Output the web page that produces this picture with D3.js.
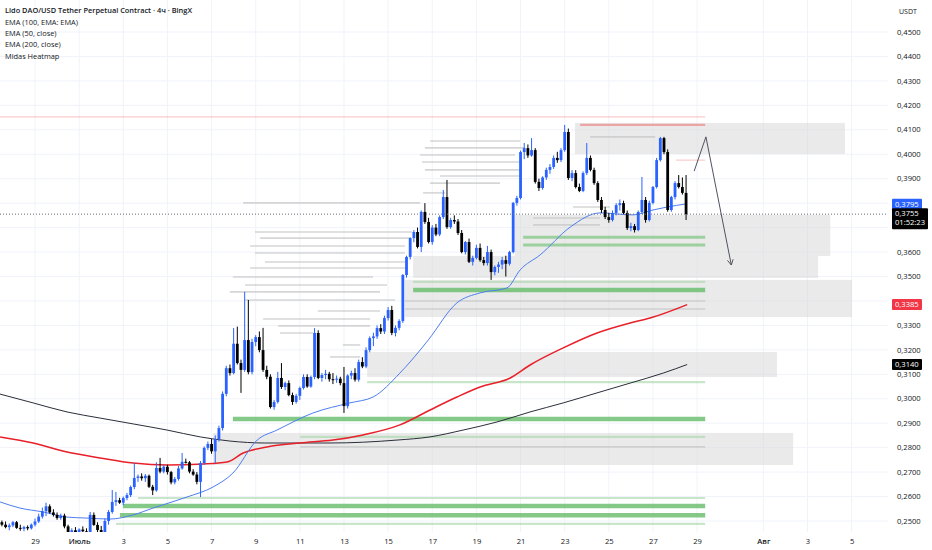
<!DOCTYPE html>
<html>
<head>
<meta charset="utf-8">
<script src="https://cdn.jsdelivr.net/npm/d3@7"></script>
<style>
  body { margin: 0; background: #fff; }
  svg { display: block; font-family: "Open Sans", "Noto Sans", sans-serif; }
</style>
</head>
<body>
<svg id="chart" width="932" height="550"></svg>
<script>
// 4h candles, first one opens 27.06 08:00 UTC. rows: [open, high, low, close]
var candles = [
  [0.2470,0.2500,0.2460,0.2495],[0.2495,0.2502,0.2478,0.2485],[0.2485,0.2498,0.2470,0.2475],[0.2475,0.2490,0.2462,0.2482],
  [0.2482,0.2500,0.2475,0.2495],[0.2495,0.2500,0.2468,0.2472],[0.2472,0.2485,0.2460,0.2468],[0.2468,0.2480,0.2458,0.2475],
  [0.2475,0.2482,0.2462,0.2470],[0.2470,0.2490,0.2465,0.2485],[0.2485,0.2510,0.2478,0.2498],[0.2498,0.2530,0.2492,0.2518],
  [0.2518,0.2555,0.2510,0.2540],[0.2540,0.2575,0.2520,0.2560],[0.2560,0.2568,0.2530,0.2535],[0.2535,0.2548,0.2518,0.2525],
  [0.2525,0.2535,0.2505,0.2512],[0.2512,0.2530,0.2505,0.2522],[0.2522,0.2530,0.2470,0.2478],[0.2478,0.2485,0.2440,0.2450],
  [0.2450,0.2470,0.2440,0.2462],[0.2462,0.2475,0.2445,0.2452],[0.2452,0.2470,0.2440,0.2465],[0.2465,0.2478,0.2450,0.2458],
  [0.2458,0.2470,0.2445,0.2450],[0.2450,0.2537,0.2440,0.2525],[0.2525,0.2535,0.2480,0.2484],[0.2484,0.2495,0.2455,0.2463],
  [0.2463,0.2480,0.2445,0.2455],[0.2455,0.2510,0.2450,0.2500],[0.2500,0.2545,0.2485,0.2537],[0.2537,0.2627,0.2530,0.2578],
  [0.2578,0.2619,0.2562,0.2585],[0.2585,0.2595,0.2570,0.2575],[0.2575,0.2600,0.2565,0.2594],[0.2594,0.2615,0.2585,0.2606],
  [0.2606,0.2645,0.2598,0.2639],[0.2639,0.2737,0.2630,0.2676],[0.2676,0.2690,0.2660,0.2682],[0.2682,0.2695,0.2665,0.2675],
  [0.2675,0.2692,0.2660,0.2685],[0.2685,0.2690,0.2635,0.2640],[0.2640,0.2648,0.2606,0.2625],[0.2625,0.2740,0.2620,0.2717],
  [0.2717,0.2758,0.2695,0.2702],[0.2702,0.2730,0.2695,0.2722],[0.2722,0.2730,0.2690,0.2700],[0.2700,0.2705,0.2650,0.2658],
  [0.2658,0.2680,0.2650,0.2672],[0.2672,0.2725,0.2665,0.2715],[0.2715,0.2778,0.2710,0.2742],[0.2742,0.2755,0.2735,0.2740],
  [0.2740,0.2745,0.2695,0.2702],[0.2702,0.2712,0.2685,0.2690],[0.2690,0.2700,0.2650,0.2660],[0.2660,0.2745,0.2598,0.2737],
  [0.2737,0.2805,0.2730,0.2799],[0.2799,0.2825,0.2790,0.2815],[0.2815,0.2835,0.2775,0.2785],[0.2785,0.2850,0.2737,0.2835],
  [0.2835,0.2890,0.2825,0.2880],[0.2880,0.3030,0.2870,0.3020],[0.3020,0.3135,0.3010,0.3125],[0.3125,0.3140,0.3095,0.3105],
  [0.3105,0.3289,0.3100,0.3225],[0.3225,0.3295,0.3140,0.3146],[0.3146,0.3160,0.3024,0.3118],[0.3118,0.3437,0.3110,0.3240],
  [0.3240,0.3404,0.3100,0.3109],[0.3109,0.3245,0.3100,0.3232],[0.3232,0.3260,0.3215,0.3252],[0.3252,0.3275,0.3190,0.3199],
  [0.3199,0.3290,0.3110,0.3118],[0.3118,0.3135,0.3080,0.3090],[0.3090,0.3100,0.2960,0.2966],[0.2966,0.2995,0.2955,0.2987],
  [0.2987,0.3110,0.2980,0.3085],[0.3085,0.3146,0.3040,0.3048],[0.3048,0.3070,0.3035,0.3064],[0.3064,0.3075,0.3010,0.3015],
  [0.3015,0.3025,0.2975,0.2987],[0.2987,0.3020,0.2980,0.3012],[0.3012,0.3050,0.2995,0.3044],[0.3044,0.3100,0.3038,0.3089],
  [0.3089,0.3100,0.3045,0.3050],[0.3050,0.3095,0.3045,0.3089],[0.3089,0.3289,0.3080,0.3269],[0.3269,0.3280,0.3080,0.3085],
  [0.3085,0.3105,0.3070,0.3097],[0.3097,0.3118,0.3080,0.3102],[0.3102,0.3110,0.3070,0.3080],[0.3080,0.3105,0.3060,0.3078],
  [0.3078,0.3095,0.3065,0.3082],[0.3082,0.3090,0.3055,0.3064],[0.3064,0.3130,0.2942,0.2970],[0.2970,0.3100,0.2960,0.3095],
  [0.3095,0.3115,0.3080,0.3105],[0.3105,0.3125,0.3070,0.3078],[0.3078,0.3160,0.3070,0.3150],[0.3150,0.3170,0.3125,0.3132],
  [0.3132,0.3210,0.3125,0.3199],[0.3199,0.3255,0.3190,0.3248],[0.3248,0.3270,0.3215,0.3255],[0.3255,0.3300,0.3245,0.3289],
  [0.3289,0.3305,0.3265,0.3275],[0.3275,0.3340,0.3265,0.3330],[0.3330,0.3375,0.3320,0.3363],[0.3363,0.3380,0.3260,0.3269],
  [0.3269,0.3300,0.3255,0.3290],[0.3290,0.3325,0.3280,0.3318],[0.3318,0.3510,0.3310,0.3506],[0.3506,0.3585,0.3495,0.3580],
  [0.3580,0.3660,0.3570,0.3657],[0.3657,0.3690,0.3640,0.3682],[0.3682,0.3700,0.3615,0.3621],[0.3621,0.3770,0.3600,0.3764],
  [0.3764,0.3800,0.3715,0.3723],[0.3723,0.3740,0.3635,0.3641],[0.3641,0.3710,0.3630,0.3700],[0.3700,0.3715,0.3665,0.3672],
  [0.3672,0.3750,0.3665,0.3743],[0.3743,0.3854,0.3735,0.3825],[0.3825,0.3895,0.3695,0.3702],[0.3702,0.3740,0.3695,0.3731],
  [0.3731,0.3750,0.3715,0.3725],[0.3725,0.3735,0.3670,0.3678],[0.3678,0.3690,0.3595,0.3600],[0.3600,0.3645,0.3590,0.3641],
  [0.3641,0.3655,0.3555,0.3560],[0.3560,0.3585,0.3545,0.3576],[0.3576,0.3630,0.3570,0.3617],[0.3617,0.3635,0.3560,0.3567],
  [0.3567,0.3580,0.3545,0.3555],[0.3555,0.3625,0.3545,0.3600],[0.3600,0.3610,0.3486,0.3518],[0.3518,0.3545,0.3505,0.3539],
  [0.3539,0.3560,0.3515,0.3549],[0.3549,0.3580,0.3530,0.3567],[0.3567,0.3585,0.3500,0.3552],[0.3552,0.3605,0.3545,0.3600],
  [0.3600,0.3805,0.3595,0.3801],[0.3801,0.3830,0.3790,0.3821],[0.3821,0.4015,0.3815,0.4009],[0.4009,0.4046,0.3980,0.4025],
  [0.4025,0.4040,0.3985,0.3995],[0.3995,0.4066,0.3990,0.4017],[0.4017,0.4025,0.3880,0.3887],[0.3887,0.3900,0.3850,0.3862],
  [0.3862,0.3910,0.3855,0.3905],[0.3905,0.3945,0.3895,0.3936],[0.3936,0.3960,0.3920,0.3948],[0.3948,0.3995,0.3940,0.3985],
  [0.3985,0.4010,0.3965,0.3976],[0.3976,0.4025,0.3968,0.4017],[0.4017,0.4120,0.4010,0.4091],[0.4091,0.4105,0.3895,0.3903],
  [0.3903,0.3935,0.3890,0.3923],[0.3923,0.3935,0.3860,0.3866],[0.3866,0.3880,0.3845,0.3850],[0.3850,0.3930,0.3845,0.3923],
  [0.3923,0.4046,0.3915,0.3985],[0.3985,0.3995,0.3930,0.3936],[0.3936,0.3945,0.3875,0.3882],[0.3882,0.3890,0.3805,0.3813],
  [0.3813,0.3825,0.3760,0.3772],[0.3772,0.3785,0.3735,0.3743],[0.3743,0.3760,0.3720,0.3731],[0.3731,0.3770,0.3725,0.3760],
  [0.3760,0.3800,0.3750,0.3792],[0.3792,0.3815,0.3770,0.3800],[0.3800,0.3810,0.3755,0.3760],[0.3760,0.3770,0.3690,0.3698],
  [0.3698,0.3720,0.3685,0.3706],[0.3706,0.3715,0.3680,0.3690],[0.3690,0.3770,0.3685,0.3764],[0.3764,0.3907,0.3755,0.3813],
  [0.3813,0.3825,0.3720,0.3731],[0.3731,0.3810,0.3725,0.3801],[0.3801,0.3870,0.3795,0.3866],[0.3866,0.3985,0.3860,0.3976],
  [0.3976,0.4071,0.3970,0.4066],[0.4066,0.4071,0.4000,0.4009],[0.4009,0.4020,0.3765,0.3772],[0.3772,0.3830,0.3765,0.3825],
  [0.3825,0.3890,0.3815,0.3882],[0.3882,0.3915,0.3860,0.3866],[0.3866,0.3905,0.3835,0.3842],[0.3842,0.3915,0.3731,0.3755]
];

// EMA lines: [candle index, price]
var ema50 = [[0.5,0.2578],[5.9,0.2553],[12.2,0.2537],[18.7,0.2516],[24.1,0.2512],[30.4,0.2508],[36.7,0.2525],
  [42.1,0.2553],[51.3,0.2598],[58.4,0.2639],[63.8,0.2696],[70.4,0.2831],[75.8,0.2872],[85.6,0.2942],[95.6,0.2983],
  [101.9,0.3007],[109.2,0.3105],[114.7,0.3199],[116.9,0.3240],[124.7,0.3392],[131.0,0.3433],[138.3,0.3453],
  [141.9,0.3527],[147.3,0.3588],[155.5,0.3702],[163.6,0.3760],[172.6,0.3752],[178.0,0.3772],[181.8,0.3784],[187.0,0.3797]];
var ema100 = [[0.5,0.2844],[9.5,0.2819],[18.7,0.2782],[27.7,0.2758],[36.7,0.2737],[45.9,0.2729],[55.7,0.2733],
  [62.2,0.2741],[66.6,0.2778],[73.1,0.2803],[82.1,0.2819],[91.0,0.2831],[99.2,0.2852],[109.2,0.2893],[117.4,0.2954],
  [124.7,0.3007],[131.0,0.3048],[139.2,0.3085],[144.6,0.3138],[153.6,0.3208],[162.8,0.3269],[171.8,0.3310],
  [177.2,0.3330],[187.3,0.3385]];
var ema200 = [[0.5,0.3019],[9.5,0.2983],[18.7,0.2946],[27.7,0.2921],[36.7,0.2897],[45.9,0.2872],[54.9,0.2844],
  [63.0,0.2827],[72.5,0.2819],[82.1,0.2819],[90.2,0.2819],[108.4,0.2831],[117.4,0.2844],[126.4,0.2872],
  [135.6,0.2905],[144.6,0.2946],[153.6,0.2983],[162.8,0.3024],[171.8,0.3064],[180.8,0.3105],[187.3,0.3140]];

// Midas heatmap: zones [from idx, to idx, top price, bottom price]
var heatBoxes = [[156.8,230.2,0.4128,0.4001],[140.5,226.2,0.3752,0.3584],[112.8,222.9,0.3584,0.3494],
  [110.6,232.1,0.3486,0.3334],[100.3,211.7,0.3191,0.3089],[58.4,216.1,0.2860,0.2729]];
// levels [from idx, to idx, price, strength]
var greenLevels = [[142.7,192.2,0.3661,2],[142.7,192.2,0.3629,2],[112.8,192.2,0.3478,1],[112.8,192.2,0.3445,3],
  [100.3,192.2,0.3068,1],[63.8,192.2,0.2917,3],[82.1,192.2,0.2844,1],[38,192.2,0.2594,1],[33.9,192.2,0.2561,3],
  [33.1,192.2,0.2524,3],[32,192.2,0.2488,1]];
var redLevels = [[-1,192.2,0.4153,1],[158.2,192.2,0.4120,2],[184.3,192.2,0.3976,1]];
var grayLevels = [[117.4,141.9,0.4054],[116.0,143.2,0.4026],[114.7,140.5,0.3997],[115.2,141.9,0.3968],
  [116.0,141.9,0.3936],[120.1,141.9,0.3911],[117.4,136.4,0.3882],[115.5,121.5,0.3842],[66.6,114.7,0.3801],
  [160.9,178.6,0.4071],[69.8,112.5,0.3682],[71.2,112.0,0.3657],[68.5,110.6,0.3625],[69.8,110.6,0.3596],
  [72.5,110.6,0.3559],[68.5,110.6,0.3535],[63.8,101.9,0.3498],[67.1,105.7,0.3465],[63.0,103.8,0.3437],
  [67.1,107.9,0.3404],[86.9,103.8,0.3359],[72.0,101.1,0.3326],[76.1,101.1,0.3298],[76.6,85.6,0.3269],
  [93.7,98.4,0.3220],[90.2,98.4,0.3171],[110.6,192.2,0.3400],[110.6,192.2,0.3367],[82.1,192.2,0.2803],
  [145.4,163.6,0.3739],[145.4,163.6,0.3711],[156.3,166.3,0.3784]];

// drawn forecast arrow [idx, price]
var arrowPts = [[189.2,0.3931],[192.4,0.4071],[199.3,0.3547]];

var legendLines = ["Lido DAO/USD Tether Perpetual Contract · 4ч · BingX", "EMA (100, EMA: EMA)",
  "EMA (50, close)", "EMA (200, close)", "Midas Heatmap"];

var tickDates = ["2025-06-29","2025-07-01","2025-07-03","2025-07-05","2025-07-07","2025-07-09","2025-07-11",
  "2025-07-13","2025-07-15","2025-07-17","2025-07-19","2025-07-21","2025-07-23","2025-07-25","2025-07-27",
  "2025-07-29","2025-08-01","2025-08-03","2025-08-05"];
var tickLabels = ["29","Июль","3","5","7","9","11","13","15","17","19","21","23","25","27","29","Авг","3","5"];

var lastPrice = 0.3755, countdown = "01:52:23";
var priceTags = [[0.3795,"#2962ff"],[0.3385,"#f23645"],[0.3140,"#000000"]];

var W = 932, H = 550, plotW = 888, plotH = 532;
var t0 = Date.UTC(2025, 5, 27, 8);
function candleTime(k) { return new Date(t0 + k * 4 * 3600 * 1000); }

var x = d3.scaleUtc()
    .domain([new Date(Date.UTC(2025, 5, 29)), new Date(Date.UTC(2025, 6, 29))])
    .range([35, 697.1]);
var y = d3.scaleLinear().domain([0.25, 0.45]).range([521, 32]);
var xi = k => x(candleTime(k));

var ru = d3.formatLocale({decimal: ",", thousands: " ", grouping: [3], currency: ["", ""]});
var fmt = ru.format(".4f");
var parseDay = d3.utcParse("%Y-%m-%d");

var svg = d3.select("#chart");
svg.append("rect").attr("width", W).attr("height", H).attr("fill", "#fff");
svg.append("defs").append("clipPath").attr("id", "plot")
    .append("rect").attr("width", plotW).attr("height", plotH);

// grid
var grid = svg.append("g").attr("clip-path", "url(#plot)");
var yTicks = d3.range(25, 46).map(v => v / 100);
grid.selectAll("line.h").data(yTicks).join("line")
    .attr("x1", 0).attr("x2", plotW).attr("y1", d => y(d)).attr("y2", d => y(d))
    .attr("stroke", "#f0f3fa").attr("stroke-width", 1);
grid.selectAll("line.v").data(tickDates).join("line")
    .attr("x1", d => x(parseDay(d))).attr("x2", d => x(parseDay(d)))
    .attr("y1", 0).attr("y2", plotH)
    .attr("stroke", "#f0f3fa").attr("stroke-width", 1);

var plot = svg.append("g").attr("clip-path", "url(#plot)");

// heatmap zones
plot.selectAll("rect.zone").data(heatBoxes).join("rect")
    .attr("x", d => xi(d[0])).attr("width", d => xi(d[1]) - xi(d[0]))
    .attr("y", d => y(d[2])).attr("height", d => y(d[3]) - y(d[2]))
    .attr("fill", "#d6d6d6").attr("fill-opacity", 0.5);

plot.selectAll("line.gray").data(grayLevels).join("line")
    .attr("x1", d => xi(d[0])).attr("x2", d => xi(d[1]))
    .attr("y1", d => y(d[2])).attr("y2", d => y(d[2]))
    .attr("stroke", "#c4c4c4").attr("stroke-opacity", 0.7).attr("stroke-width", 1.6);

var greenStyle = {1: ["#a5d6a7", 0.6, 2.2], 2: ["#81c784", 0.75, 3], 3: ["#66bb6a", 0.8, 4.5]};
plot.selectAll("line.green").data(greenLevels).join("line")
    .attr("x1", d => xi(d[0])).attr("x2", d => xi(d[1]))
    .attr("y1", d => y(d[2])).attr("y2", d => y(d[2]))
    .attr("stroke", d => greenStyle[d[3]][0])
    .attr("stroke-opacity", d => greenStyle[d[3]][1])
    .attr("stroke-width", d => greenStyle[d[3]][2]);

plot.selectAll("line.red").data(redLevels).join("line")
    .attr("x1", d => xi(d[0])).attr("x2", d => xi(d[1]))
    .attr("y1", d => y(d[2])).attr("y2", d => y(d[2]))
    .attr("stroke", "#ef5350")
    .attr("stroke-opacity", d => d[3] == 2 ? 0.45 : 0.3)
    .attr("stroke-width", d => d[3] == 2 ? 2.2 : 1.2);

// EMA lines
var emaLine = d3.line().x(d => xi(d[0])).y(d => y(d[1])).curve(d3.curveMonotoneX);
plot.append("path").datum(ema200).attr("d", emaLine)
    .attr("fill", "none").attr("stroke", "#2a2e39").attr("stroke-width", 1);
plot.append("path").datum(ema100).attr("d", emaLine)
    .attr("fill", "none").attr("stroke", "#e8202a").attr("stroke-width", 1.5);
plot.append("path").datum(ema50).attr("d", emaLine)
    .attr("fill", "none").attr("stroke", "#4d7ef0").attr("stroke-width", 1);

// candles
var up = "#2962ff", down = "#000000", bodyW = 2.8;
var cg = plot.append("g");
cg.selectAll("line.wick").data(candles).join("line")
    .attr("x1", (d, i) => xi(i)).attr("x2", (d, i) => xi(i))
    .attr("y1", d => y(d[1])).attr("y2", d => y(d[2]))
    .attr("stroke", d => d[3] >= d[0] ? up : down).attr("stroke-width", 1);
cg.selectAll("rect.body").data(candles).join("rect")
    .attr("x", (d, i) => xi(i) - bodyW / 2).attr("width", bodyW)
    .attr("y", d => y(Math.max(d[0], d[3])))
    .attr("height", d => Math.max(1, Math.abs(y(d[0]) - y(d[3]))))
    .attr("fill", d => d[3] >= d[0] ? up : down);

// current price dotted line
plot.append("line").attr("x1", 0).attr("x2", plotW)
    .attr("y1", y(lastPrice)).attr("y2", y(lastPrice))
    .attr("stroke", "#6a6d78").attr("stroke-width", 1).attr("stroke-dasharray", "1,2");

// forecast arrow
var ap = arrowPts.map(d => [xi(d[0]), y(d[1])]);
plot.append("path").attr("d", d3.line()(ap))
    .attr("fill", "none").attr("stroke", "#50535e").attr("stroke-width", 1);
var end = ap[2], prev = ap[1];
var ang = Math.atan2(end[1] - prev[1], end[0] - prev[0]);
[-0.5, 0.5].forEach(function (da) {
    plot.append("line").attr("x1", end[0]).attr("y1", end[1])
        .attr("x2", end[0] - 6 * Math.cos(ang + da)).attr("y2", end[1] - 6 * Math.sin(ang + da))
        .attr("stroke", "#50535e").attr("stroke-width", 1);
});

// price axis; labels sitting under the price tags are hidden, as on the original
var axisFont = 7.6;
var tagYs = priceTags.map(t => y(t[0])).concat([y(lastPrice), y(lastPrice) + 9]);
var shownTicks = yTicks.filter(v => tagYs.every(ty => Math.abs(y(v) - ty) > 6.5));
svg.append("g").selectAll("text").data(shownTicks).join("text")
    .attr("x", 897).attr("y", d => y(d)).attr("dy", "0.35em")
    .attr("font-size", axisFont).attr("fill", "#131722")
    .text(d => fmt(d));
svg.append("text").attr("x", 899).attr("y", 12).attr("dy", "0.35em")
    .attr("font-size", 7).attr("fill", "#131722").text("USDT");

// price tags
var tags = svg.append("g");
priceTags.forEach(function (t) {
    var yy = y(t[0]);
    tags.append("rect").attr("x", 892).attr("y", yy - 5.5).attr("width", 30).attr("height", 11)
        .attr("rx", 1).attr("fill", t[1]);
    tags.append("text").attr("x", 895).attr("y", yy).attr("dy", "0.35em")
        .attr("font-size", axisFont).attr("fill", "#fff").text(fmt(t[0]));
});
var ly = y(lastPrice);
tags.append("rect").attr("x", 892).attr("y", ly - 6).attr("width", 36).attr("height", 21)
    .attr("rx", 1).attr("fill", "#000");
tags.append("text").attr("x", 895).attr("y", ly - 0.5).attr("dy", "0.35em")
    .attr("font-size", axisFont).attr("fill", "#fff").text(fmt(lastPrice));
tags.append("text").attr("x", 895).attr("y", ly + 8.5).attr("dy", "0.35em")
    .attr("font-size", axisFont).attr("fill", "#fff").text(countdown);

// time axis
var xAxis = d3.axisBottom(x)
    .tickValues(tickDates.map(parseDay))
    .tickFormat((d, i) => tickLabels[i])
    .tickSize(0).tickPadding(0);
var xa = svg.append("g").attr("transform", "translate(0,541)").call(xAxis);
xa.select(".domain").remove();
xa.selectAll("text").attr("font-size", axisFont).attr("fill", "#131722")
    .attr("font-family", "Open Sans, Noto Sans, sans-serif").attr("dy", "0.35em")
    .attr("font-weight", (d, i) => tickLabels[i].length > 2 ? 600 : 400);

// legend
svg.append("g").selectAll("text").data(legendLines).join("text")
    .attr("x", 5).attr("y", (d, i) => [10, 22, 33, 44, 56][i]).attr("dy", "0.35em")
    .attr("font-size", 7.4).attr("fill", "#131722")
    .attr("font-weight", (d, i) => i == 0 ? 600 : 400)
    .text(d => d);
</script>
</body>
</html>
